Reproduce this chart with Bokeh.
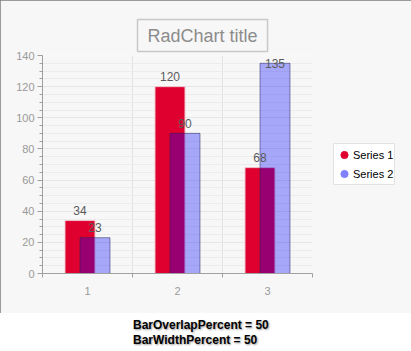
import numpy as np
from bokeh.plotting import figure
from bokeh.models import (FixedTicker, Legend, LegendItem, Div,
                          ColumnDataSource, Range1d)
from bokeh.layouts import column
from bokeh.embed import file_html
from bokeh.resources import INLINE
from bokeh.core.properties import value

# ---- data ----
categories = [1, 2, 3]
category_labels = ["1", "2", "3"]
series1 = [34, 120, 68]
series2 = [23, 90, 135]
series_names = ["Series 1", "Series 2"]
y_ticks = [0, 20, 40, 60, 80, 100, 120, 140]
title_text = "RadChart title"
footer_lines = ["BarOverlapPercent = 50", "BarWidthPercent = 50"]

FONT = "Liberation Sans"
BG = "#F7F7F7"
RED = "#E0002F"

bar_w = 1 / 3
cats = np.array(categories, dtype=float)
x1 = cats - bar_w / 4
x2 = cats + bar_w / 4

p = figure(frame_width=270, frame_height=218, output_backend="svg", toolbar_location=None,
           x_range=Range1d(0.5, 3.5), y_range=Range1d(0, 140),
           min_border_left=42, min_border_right=90, min_border_top=55,
           min_border_bottom=40, background_fill_color=BG, border_fill_color=BG,
           title=title_text,
           styles={"outline": "2px solid #7C7C7C", "outline-offset": "-2px"})
p.outline_line_color = None

# title box
p.title.align = "left"
p.title.offset = 95
p.title.text_font = FONT
p.title.text_font_size = "18px"
p.title.text_font_style = "normal"
p.title.text_color = "#8C8C8C"
p.title.border_line_color = "#C8C8C8"
p.title.border_line_width = 1.5
p.title.background_fill_color = BG
p.title.padding = dict(left=10, right=10, top=6, bottom=6)
p.title.standoff = 8

# axes
p.xaxis.ticker = FixedTicker(ticks=categories, minor_ticks=[0.5, 1.5, 2.5, 3.5])
p.xaxis.major_label_overrides = {c: l for c, l in zip(categories, category_labels)}
p.yaxis.ticker = FixedTicker(ticks=y_ticks, minor_ticks=list(range(0, 141, 5)))
for ax in (p.xaxis[0], p.yaxis[0]):
    ax.axis_line_color = "#A0A0A0"
    ax.major_tick_line_color = "#A0A0A0"
    ax.minor_tick_line_color = "#A0A0A0"
    ax.major_label_text_color = "#9A9A9A"
    ax.major_label_text_font = FONT
    ax.major_label_text_font_size = "11px"
    ax.major_tick_in = 0
    ax.minor_tick_in = 0
p.xaxis.major_tick_out = 0
p.xaxis.minor_tick_out = 4
p.xaxis.major_label_standoff = 9
p.yaxis.major_tick_out = 5
p.yaxis.minor_tick_out = 3
p.yaxis.major_label_standoff = 3

p.xgrid.grid_line_color = None
p.xgrid.minor_grid_line_color = "#E2E2E2"
p.ygrid.grid_line_color = "#E6E6E6"
p.ygrid.minor_grid_line_color = "#ECECEC"

# bars
r1 = p.vbar(x=x1, top=series1, width=bar_w, fill_color=RED, line_color="#F0C4CC", line_width=1)
r2 = p.vbar(x=x2, top=series2, width=bar_w, fill_color="#0000FF", fill_alpha=0.32,
            line_color="#202060", line_alpha=0.5, line_width=1)

# value labels
s1 = np.array(series1, float)
s2 = np.array(series2, float)
top_limit = 134.9
lab_src = ColumnDataSource(dict(
    x=list(x1) + list(x2),
    y=list(np.minimum(s1 + 6.4, top_limit)) + list(np.minimum(s2 + 6.4, top_limit)),
    t=[str(v) for v in series1] + [str(v) for v in series2]))
p.text(x="x", y="y", text="t", source=lab_src, text_align="center", text_baseline="middle",
       text_color="#5A5A5A", text_font=value(FONT), text_font_size="12px")

# legend (glyph-only renderers, hidden from the plot area)
g1 = p.scatter(x=x1, y=series1, marker="circle", size=10, fill_color=RED, line_color=RED,
               visible=False)
g2 = p.scatter(x=x2, y=series2, marker="circle", size=10, fill_color="#8080FF",
               line_color="#8080FF", visible=False)
legend = Legend(items=[LegendItem(label=series_names[0], renderers=[g1]),
                       LegendItem(label=series_names[1], renderers=[g2])],
                location="center_left", orientation="vertical",
                border_line_color="#C8C8C8", border_line_width=1.5,
                background_fill_color="#FFFFFF", background_fill_alpha=1,
                label_text_font=FONT, label_text_font_size="11px", label_text_color="#000000",
                glyph_width=18, glyph_height=19, label_height=16, label_standoff=0,
                spacing=0, padding=1, margin=21)
p.add_layout(legend, "right")

# footer
footer_html = (
    '<div style="margin-left:128px; margin-top:0px; font-family:\'Liberation Sans\', Arial, sans-serif;'
    ' font-weight:bold; font-size:12px; line-height:15px; color:#000;'
    ' text-shadow:1px 1px 2px #9A9A9A; white-space:nowrap;">'
    + "<br>".join(footer_lines) + "</div>")
f = Div(text=footer_html, width=411, height=38, styles={"background-color": "#FFFFFF"})

layout = column(p, f, spacing=0)
open("out.html", "w").write(file_html(layout, INLINE))
